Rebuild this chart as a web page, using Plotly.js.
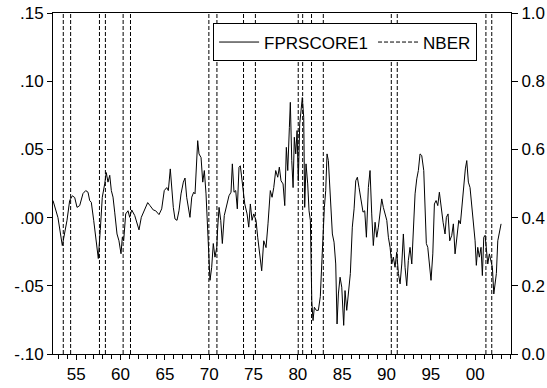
<!DOCTYPE html>
<html>
<head>
<meta charset="utf-8">
<script src="https://cdn.plot.ly/plotly-3.0.1.min.js"></script>
<style>html,body{margin:0;padding:0;background:#fff;}#chart{width:547px;height:388px;}</style>
</head>
<body>
<div id="chart"></div>
<script>
// FPRSCORE1 observations (decimal year, value)
var dates = [
1952.38,1952.94,1953.43,1953.70,1953.96,1954.26,1954.56,1954.83,1955.09,1955.39,1955.76,1956.07,1956.33,1956.52,1956.70,1956.97,1957.26,1957.49,1957.71,1957.94,
1958.21,1958.39,1958.58,1958.78,1958.96,1959.15,1959.34,1959.60,1959.82,1960.05,1960.20,1960.35,1960.58,1960.84,1961.03,1961.26,1961.60,1962.08,1962.34,
1962.76,1963.06,1963.32,1963.69,1963.96,1964.34,1964.64,1964.93,1965.21,1965.39,1965.61,1965.77,1965.95,1966.14,1966.37,1966.59,1966.82,1967.08,1967.27,1967.46,
1967.64,1967.83,1968.03,1968.25,1968.40,1968.51,1968.70,1968.85,1969.08,1969.27,1969.45,1969.64,1969.83,1969.98,1970.09,1970.28,1970.46,1970.65,1970.85,1970.96,
1971.11,1971.30,1971.48,1971.70,1971.97,1972.23,1972.46,1972.61,1972.80,1972.99,1973.17,1973.36,1973.51,
1973.81,1974.01,1974.27,1974.46,1974.64,1974.83,1975.02,1975.28,1975.47,1975.70,1975.92,1976.15,1976.41,1976.63,1976.89,1977.09,1977.28,1977.50,1977.73,1977.91,
1978.10,1978.33,1978.52,1978.70,1978.86,1979.04,1979.15,1979.31,1979.46,1979.60,1979.76,1979.91,1980.05,1980.21,1980.36,1980.50,1980.66,1980.77,1980.92,1981.11,
1981.26,1981.41,1981.57,1981.71,1981.86,1982.08,1982.31,1982.53,1982.73,1982.84,1982.99,1983.14,1983.29,1983.44,
1983.71,1983.89,1984.08,1984.27,1984.42,1984.57,1984.76,1984.95,1985.17,1985.32,1985.51,1985.69,1985.92,1986.14,1986.34,1986.53,1986.71,1986.90,1987.13,1987.35,
1987.54,1987.73,1987.95,1988.14,1988.33,1988.51,1988.71,1988.90,1989.08,1989.27,1989.46,1989.64,1989.84,1990.03,1990.21,1990.40,1990.59,1990.77,1990.96,1991.15,
1991.34,1991.53,1991.72,1991.90,1992.09,1992.28,1992.46,1992.65,1992.85,1993.03,1993.22,1993.41,1993.59,1993.78,1993.97,
1994.20,1994.35,1994.49,1994.65,1994.83,1995.02,1995.22,1995.40,1995.59,1995.78,1995.96,1996.15,1996.38,1996.60,1996.75,1996.94,1997.13,1997.36,1997.54,1997.73,
1997.96,1998.15,1998.33,1998.52,1998.71,1998.89,1999.05,1999.23,1999.42,1999.62,1999.80,1999.99,2000.13,2000.29,2000.47,2000.66,2000.81,2000.97,2001.12,2001.26,
2001.42,2001.60,2001.79,2001.94,2002.10,2002.25,2002.39,2002.55,2002.73,2002.92
];
var fprscore1 = [
0.0125,0.000,-0.0205,-0.012,-0.002,0.0125,0.016,0.0147,0.0075,0.0088,0.0176,0.0198,0.0186,0.0125,0.0112,-0.002,-0.017,-0.030,-0.0095,0.0149,
0.0247,0.033,0.026,0.031,0.0198,0.015,0.004,-0.012,-0.017,-0.0265,-0.0144,-0.017,0.0027,0.005,0.0002,0.0056,0.0015,-0.009,0.0002,
0.0064,0.011,0.0088,0.0056,0.005,0.0022,0.0064,0.0198,0.022,0.0198,0.0357,0.022,0.0075,-0.001,-0.002,0.005,0.0174,0.026,0.029,0.0149,
0.0075,0.0002,0.015,0.0186,0.0174,0.0296,0.0564,0.0467,0.044,0.026,0.0345,0.0174,-0.0144,-0.039,-0.046,-0.0364,-0.019,-0.029,-0.0218,-0.007,
0.0075,-0.002,-0.019,0.0015,0.010,0.016,0.0186,0.0394,0.0186,0.0198,0.0064,0.0369,0.038,
0.022,0.010,0.0027,-0.007,0.010,-0.002,0.0027,-0.002,-0.0144,-0.0266,-0.039,-0.017,-0.022,-0.0046,0.0198,0.0149,0.022,0.0345,0.0296,0.037,
0.027,0.0247,0.0088,0.0515,0.0345,0.066,0.0845,0.0418,0.022,0.0589,0.0467,0.0638,0.027,0.0687,0.081,0.088,0.0735,0.0075,0.0394,0.0247,
0.005,-0.002,-0.061,-0.0755,-0.0657,-0.068,-0.068,-0.058,-0.029,-0.007,0.0075,0.0198,0.0467,0.0418,
0.0125,-0.012,-0.018,-0.034,-0.078,-0.056,-0.0437,-0.051,-0.079,-0.0535,-0.068,-0.056,-0.041,-0.007,0.0064,0.027,0.0296,0.022,0.0125,0.004,
0.005,-0.0144,0.022,0.0345,0.0027,-0.0205,-0.0034,-0.0144,-0.007,0.005,0.0137,0.0075,0.0027,-0.002,-0.0144,-0.0218,-0.034,-0.029,-0.0364,-0.0254,
-0.041,-0.0486,-0.034,-0.012,-0.0364,-0.050,-0.0315,-0.0218,-0.034,-0.002,0.0174,0.0284,0.0345,0.0467,0.0455,
0.0345,0.0075,-0.019,-0.0218,-0.034,-0.046,-0.0266,0.010,0.0125,0.0088,0.0186,0.0064,-0.0034,-0.012,0.0002,0.0027,-0.017,-0.013,-0.0046,-0.0266,
-0.012,-0.002,-0.0046,0.010,0.0284,0.0357,0.0418,0.026,0.022,0.0075,-0.002,-0.017,-0.035,-0.0218,-0.029,-0.0218,-0.0425,-0.0144,-0.013,-0.0218,
-0.034,-0.0266,-0.0315,-0.0364,-0.056,-0.0486,-0.041,-0.017,-0.0095,-0.0046
];
// NBER business-cycle peaks and troughs (mid-month decimal years)
var nberDates = [1953.54,1954.37,1957.62,1958.29,1960.29,1961.12,1969.96,1970.87,1973.87,1975.21,1980.04,1980.54,1981.54,1982.87,1990.54,1991.21,2001.21,2001.87];
var nberLow = 0, nberHigh = 1;

var xTickVals = [1955,1960,1965,1970,1975,1980,1985,1990,1995,2000];
var xTickText = ['55','60','65','70','75','80','85','90','95','00'];
var yTickVals = [0.15,0.10,0.05,0.00,-0.05,-0.10];
var yTickText = ['.15','.10','.05','.00','-.05','-.10'];

var nx = [], ny = [];
nberDates.forEach(function(d){ nx.push(d, d, null); ny.push(nberLow, nberHigh, null); });

var font = {family: 'Liberation Sans, Arial, sans-serif', size: 17, color: '#000'};

var traces = [
  {x: dates, y: fprscore1, type: 'scatter', mode: 'lines', name: 'FPRSCORE1',
   line: {color: '#000', width: 1}, yaxis: 'y'},
  {x: nx, y: ny, type: 'scatter', mode: 'lines', name: 'NBER',
   line: {color: '#000', width: 1, dash: '4px,2px'}, yaxis: 'y2', connectgaps: false}
];

var layout = {
  width: 547, height: 388,
  margin: {l: 53, r: 36, t: 13, b: 34, pad: 0},
  paper_bgcolor: '#fff', plot_bgcolor: '#fff',
  font: font,
  showlegend: true,
  legend: {orientation: 'h', x: 0.926, xanchor: 'right', y: 0.9135, yanchor: 'middle',
           bgcolor: '#fff', bordercolor: '#000', borderwidth: 1, font: font,
           itemwidth: 40, tracegroupgap: 0},
  xaxis: {range: [1952.38, 2004.04], tickmode: 'array', tickvals: xTickVals, ticktext: xTickText,
          ticks: 'outside', ticklen: 5, tickcolor: '#000', showline: true, linecolor: '#000', linewidth: 1,
          mirror: true, showgrid: false, zeroline: false, tickfont: font,
          minor: {tickmode: 'linear', tick0: 1950, dtick: 1, ticks: 'outside', ticklen: 4, tickcolor: '#000', showgrid: false}},
  yaxis: {range: [-0.10, 0.15], tickmode: 'array', tickvals: yTickVals, ticktext: yTickText,
          ticks: 'outside', ticklen: 5, tickcolor: '#000', showline: true, linecolor: '#000', linewidth: 1,
          showgrid: false, zeroline: false, tickfont: font},
  yaxis2: {range: [0, 1], overlaying: 'y', side: 'right', tick0: 0, dtick: 0.2, tickformat: '.1f',
           ticks: 'outside', ticklen: 6, tickcolor: '#000', showline: true, linecolor: '#000', linewidth: 1,
           showgrid: false, zeroline: false, tickfont: font}
};

Plotly.newPlot('chart', traces, layout, {displayModeBar: false, staticPlot: true});
</script>
</body>
</html>
